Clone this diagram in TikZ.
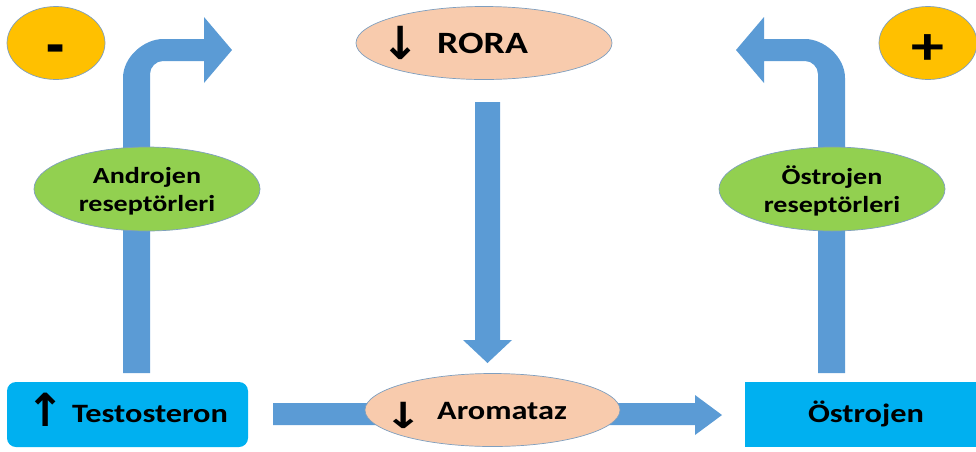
\documentclass[tikz,border=0pt]{standalone}
\usepackage{fontspec}
\setmainfont[FakeStretch=1.22]{Carlito}
\newfontfamily\arrowfont{DejaVu Sans}
\usetikzlibrary{shapes.geometric,calc}
\definecolor{arrowblue}{HTML}{5B9BD5}
\definecolor{signyellow}{HTML}{FFC000}
\definecolor{peach}{HTML}{F8CBAD}
\definecolor{leafgreen}{HTML}{92D050}
\definecolor{cyanbox}{HTML}{00B0F0}
\definecolor{edgeblue}{HTML}{7F9FBF}
\newcommand{\bigarrowglyph}[3]{\scalebox{#1}[#2]{\arrowfont\bfseries #3}}
\begin{document}
\begin{tikzpicture}[x=1pt,y=-1pt,
  blockarrow/.style={fill=arrowblue,draw=none},
  oval/.style={ellipse,draw=edgeblue,line width=0.7pt,inner sep=0pt},
  signoval/.style={oval,fill=signyellow,minimum width=98pt,minimum height=73pt},
  enzyme/.style={oval,fill=peach,minimum width=256pt,minimum height=73pt},
  receptor/.style={oval,fill=leafgreen,minimum width=226pt,minimum height=84pt},
  hormone/.style={fill=cyanbox,draw=none,minimum width=241pt,minimum height=65pt,inner sep=0pt},
  lbl/.style={font=\bfseries\fontsize{26.5}{30}\selectfont,inner sep=0pt},
  rlbl/.style={font=\bfseries\fontsize{23}{28}\selectfont,align=center,inner sep=0pt},
  arr/.style={font=\fontsize{24}{24}\selectfont,inner sep=0pt}
]
\useasboundingbox (0,0) rectangle (976,451);

% left bent arrow
\path[blockarrow] (123,373) -- (123,78) .. controls (123,56.5) and (144.5,39) .. (163,39)
  -- (204,39) -- (204,17) -- (232,50) -- (204,83) -- (204,61) -- (163,61)
  .. controls (156,61) and (150,67) .. (150,74) -- (150,373) -- cycle;
% right bent arrow
\path[blockarrow] (845,373) -- (845,78) .. controls (845,56.5) and (823.5,39) .. (805,39)
  -- (764,39) -- (764,17) -- (736,50) -- (764,83) -- (764,61) -- (805,61)
  .. controls (812,61) and (818,67) .. (818,74) -- (818,373) -- cycle;
% down arrow
\path[blockarrow] (475,102) -- (500,102) -- (500,340) -- (512,340) -- (487.5,363)
  -- (463,340) -- (475,340) -- cycle;
% horizontal arrow
\path[blockarrow] (273,403) -- (695,403) -- (695,395) -- (722,415) -- (695,435)
  -- (695,425) -- (273,425) -- cycle;

% sign ovals
\node[signoval] (minus) at (56,43) {};
\node[font=\bfseries\fontsize{54}{54}\selectfont,inner sep=0pt] (minustxt) at (56,57) {\scalebox{0.9}[1.3]{-}};
\node[signoval] (plus) at (928,43) {};
\node[font=\bfseries\fontsize{54}{54}\selectfont,inner sep=0pt] (plustxt) at (928,50) {+};

% receptors
\node[receptor] (ar) at (147,189) {};
\node[rlbl] (artxt) at (147,191) {Androjen\\reseptörleri};
\node[receptor] (er) at (832,189) {};
\node[rlbl] (ertxt) at (832,191) {Östrojen\\reseptörleri};

% enzymes
\node[enzyme] (rora) at (484,43) {};
\node[arr] (roraarr) at (401,43) {\bigarrowglyph{1.9}{1.9}{↓}};
\node[font=\bfseries\fontsize{31}{31}\selectfont,inner sep=0pt,anchor=west] (roratxt) at (437,43) {RORA};
\node[enzyme,minimum width=255pt] (arom) at (492.5,410) {};
\node[arr] (aromarr) at (404,415) {\bigarrowglyph{1.9}{1.5}{↓}};
\node[lbl,anchor=west] (aromtxt) at (437,411) {Aromataz};

% hormones
\node[hormone,rounded corners=9pt] (testo) at (127.5,414.5) {};
\node[arr] (testoarr) at (45.5,410) {\bigarrowglyph{1.9}{1.9}{↑}};
\node[lbl,anchor=west] (testotxt) at (72,414) {Testosteron};
\node[hormone,minimum width=231pt] (estro) at (860.5,414.5) {};
\node[lbl] (estrotxt) at (866,414) {Östrojen};
\end{tikzpicture}
\end{document}
